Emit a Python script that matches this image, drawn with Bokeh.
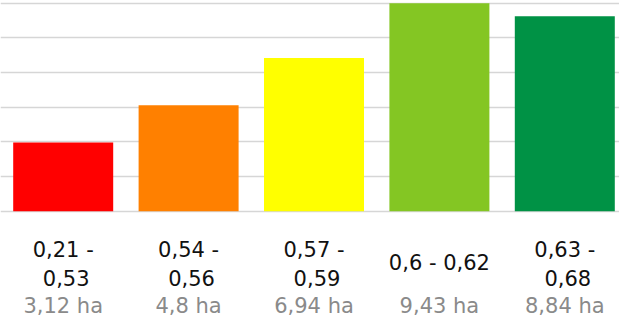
from bokeh.plotting import figure
from bokeh.models import ColumnDataSource, Range1d, FixedTicker
from bokeh.core.properties import value
from bokeh.embed import file_html
from bokeh.resources import INLINE

# Class ranges (two-line wrapped where long), areas in hectares, bar colours
range_line1 = ["0,21 -", "0,54 -", "0,57 -", "", "0,63 -"]
range_line2 = ["0,53", "0,56", "0,59", "", "0,68"]
range_single = ["", "", "", "0,6 - 0,62", ""]
areas_ha = [3.12, 4.8, 6.94, 9.43, 8.84]
colors = ["#ff0000", "#ff8000", "#ffff00", "#84c623", "#009245"]

W, H = 619, 325
slot_px = 125.4
px_per_unit = 208.0 / max(areas_ha)
base_px = 210.7

xs = list(range(len(areas_ha)))
area_labels = [("%g" % a).replace(".", ",") + " ha" for a in areas_ha]

src = ColumnDataSource(dict(
    x=xs, top=areas_ha, color=colors,
    l1=range_line1, l2=range_line2, single=range_single, area=area_labels,
    zero=[0] * len(xs),
))

x_start = -62.7 / slot_px
x_end = x_start + W / slot_px
y_end = max(areas_ha) + 2.7 / px_per_unit
y_start = -(H - base_px) / px_per_unit

p = figure(width=W, height=H, output_backend="svg", toolbar_location=None,
           x_range=Range1d(x_start, x_end), y_range=Range1d(y_start, y_end),
           min_border=0, outline_line_color=None)
p.axis.visible = False
p.xgrid.visible = False

# six equal steps up to the largest class
ymax = max(areas_ha)
p.yaxis.ticker = FixedTicker(ticks=[ymax * i / 6 for i in range(7)])
p.ygrid.grid_line_color = "#d6d6d6"
p.ygrid.grid_line_width = 1.5
p.ygrid.bounds = (0, ymax)

p.vbar(x="x", top="top", bottom=0, width=100 / slot_px, fill_color="color",
       line_color=None, source=src)

font = value("DejaVu Sans")
common = dict(x="x", y="zero", source=src, text_font=font, text_font_size="21px",
              text_align="center", text_baseline="alphabetic")
p.text(text="l1", y_offset=38.5, text_color="#111111", **common)
p.text(text="l2", y_offset=66.8, x_offset=3, text_color="#111111", **common)
p.text(text="single", y_offset=51.8, text_color="#111111", **common)
p.text(text="area", y_offset=95.0, text_color="#8a8a8a", **common)

open("out.html", "w").write(file_html(p, INLINE))
